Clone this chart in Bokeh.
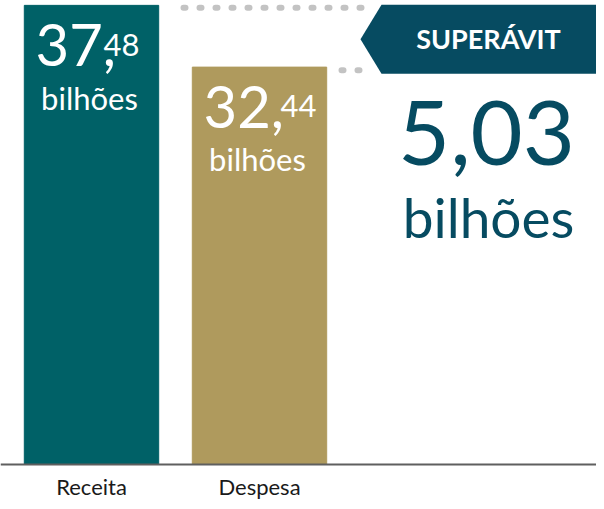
from bokeh.plotting import figure
from bokeh.models import ColumnDataSource, Range1d, Span
from bokeh.core.properties import value
from bokeh.embed import file_html
from bokeh.resources import INLINE

# ---- data ----
categories = ["Receita", "Despesa"]
values = [37.48, 32.44]
int_labels = ["37,", "32,"]
dec_labels = ["48", "44"]
unit_labels = ["bilhões", "bilhões"]
bar_colors = ["#006167", "#af9a5d"]
superavit_text = "5,03"
superavit_unit = "bilhões"
banner_text = "SUPERÁVIT"

FONT = "Lato"
DARK = "#064b61"

xs = list(range(len(categories)))
PX_X = 168.0    # pixels per x unit
PX_Y = 12.25    # pixels per value unit
W, H = 596, 501
BASE = 464      # baseline pixel row inside the figure
CX0 = 91        # pixel column of first bar centre


def dy(px, fs):
    """pixel offset (down) for an alphabetic baseline, corrected for text box."""
    return px - 0.38 * fs


p = figure(width=W, height=H, output_backend="svg", toolbar_location=None,
           x_range=Range1d(-CX0 / PX_X, (W - CX0) / PX_X),
           y_range=Range1d(-(H - BASE) / PX_Y, BASE / PX_Y),
           min_border=0)
p.outline_line_color = None
p.grid.visible = False
p.xaxis.visible = False
p.yaxis.visible = False
p.background_fill_color = "white"
p.border_fill_color = "white"

src = ColumnDataSource(dict(x=xs, top=values, color=bar_colors, cat=categories,
                            ilab=int_labels, dlab=dec_labels, unit=unit_labels))
# layout tweak: decimal part position (px right of bar centre)
src.data["dec_dx"] = [12, 21]

p.vbar(x="x", top="top", width=0.8, bottom=0, color="color", source=src)

# baseline
p.add_layout(Span(location=0, dimension="width", line_color="#5f5f5f", line_width=2))

# category labels (below baseline)
p.text(x="x", y=0, text="cat", source=src, y_offset=dy(30, 22),
       text_align="center", text_baseline="alphabetic", text_color="#1a1a1a",
       text_font=value(FONT), text_font_size="22px")

# dotted guide lines
d_end = (370 - 99) / PX_X
p.segment(x0=[(191 - 99) / PX_X, 1 + (349 - 267) / PX_X], x1=[d_end, d_end],
          y0=[values[0] - 0.2, values[1] - 0.25], y1=[values[0] - 0.2, values[1] - 0.25],
          line_color="#c3c3c3", line_width=6, line_cap="round", line_dash="2 14")

# labels inside bars
p.text(x="x", y="top", text="ilab", source=src, x_offset=-56, y_offset=dy(62, 58),
       text_align="left", text_baseline="alphabetic", text_color="white",
       text_font=value(FONT), text_font_size="58px")
p.text(x="x", y="top", text="dlab", source=src, x_offset="dec_dx", y_offset=dy(51, 31),
       text_align="left", text_baseline="alphabetic", text_color="white",
       text_font=value(FONT), text_font_size="31px")
p.text(x="x", y="top", text="unit", source=src, x_offset=-2, y_offset=dy(104, 31),
       text_align="center", text_baseline="alphabetic", text_color="white",
       text_font=value(FONT), text_font_size="31px")

# banner
top = values[0] + 0.05
bot = values[1] - 0.55
mid = (top + bot) / 2
x_pt = (368 - 99) / PX_X
x_cn = (389 - 99) / PX_X
x_end = (W - CX0) / PX_X + 0.1
p.patch(x=[x_pt, x_cn, x_end, x_end, x_cn], y=[mid, top, top, bot, bot],
        fill_color=DARK, line_color=None)
p.text(x=[(496 - 99) / PX_X], y=[values[0]], text=[banner_text], y_offset=dy(43, 27),
       text_align="center", text_baseline="alphabetic", text_color="white",
       text_font=value(FONT), text_font_style="bold", text_font_size="27px")

# surplus value
p.text(x=[(494 - 99) / PX_X], y=[(472 - 172) / PX_Y], text=[superavit_text],
       y_offset=dy(3, 90),
       text_align="center", text_baseline="alphabetic", text_color=DARK,
       text_font=value(FONT), text_font_size="90px")
p.text(x=[(496 - 99) / PX_X], y=[(472 - 245) / PX_Y], text=[superavit_unit],
       y_offset=dy(0, 55),
       text_align="center", text_baseline="alphabetic", text_color=DARK,
       text_font=value(FONT), text_font_size="55px")

open("out.html", "w").write(file_html(p, INLINE))
